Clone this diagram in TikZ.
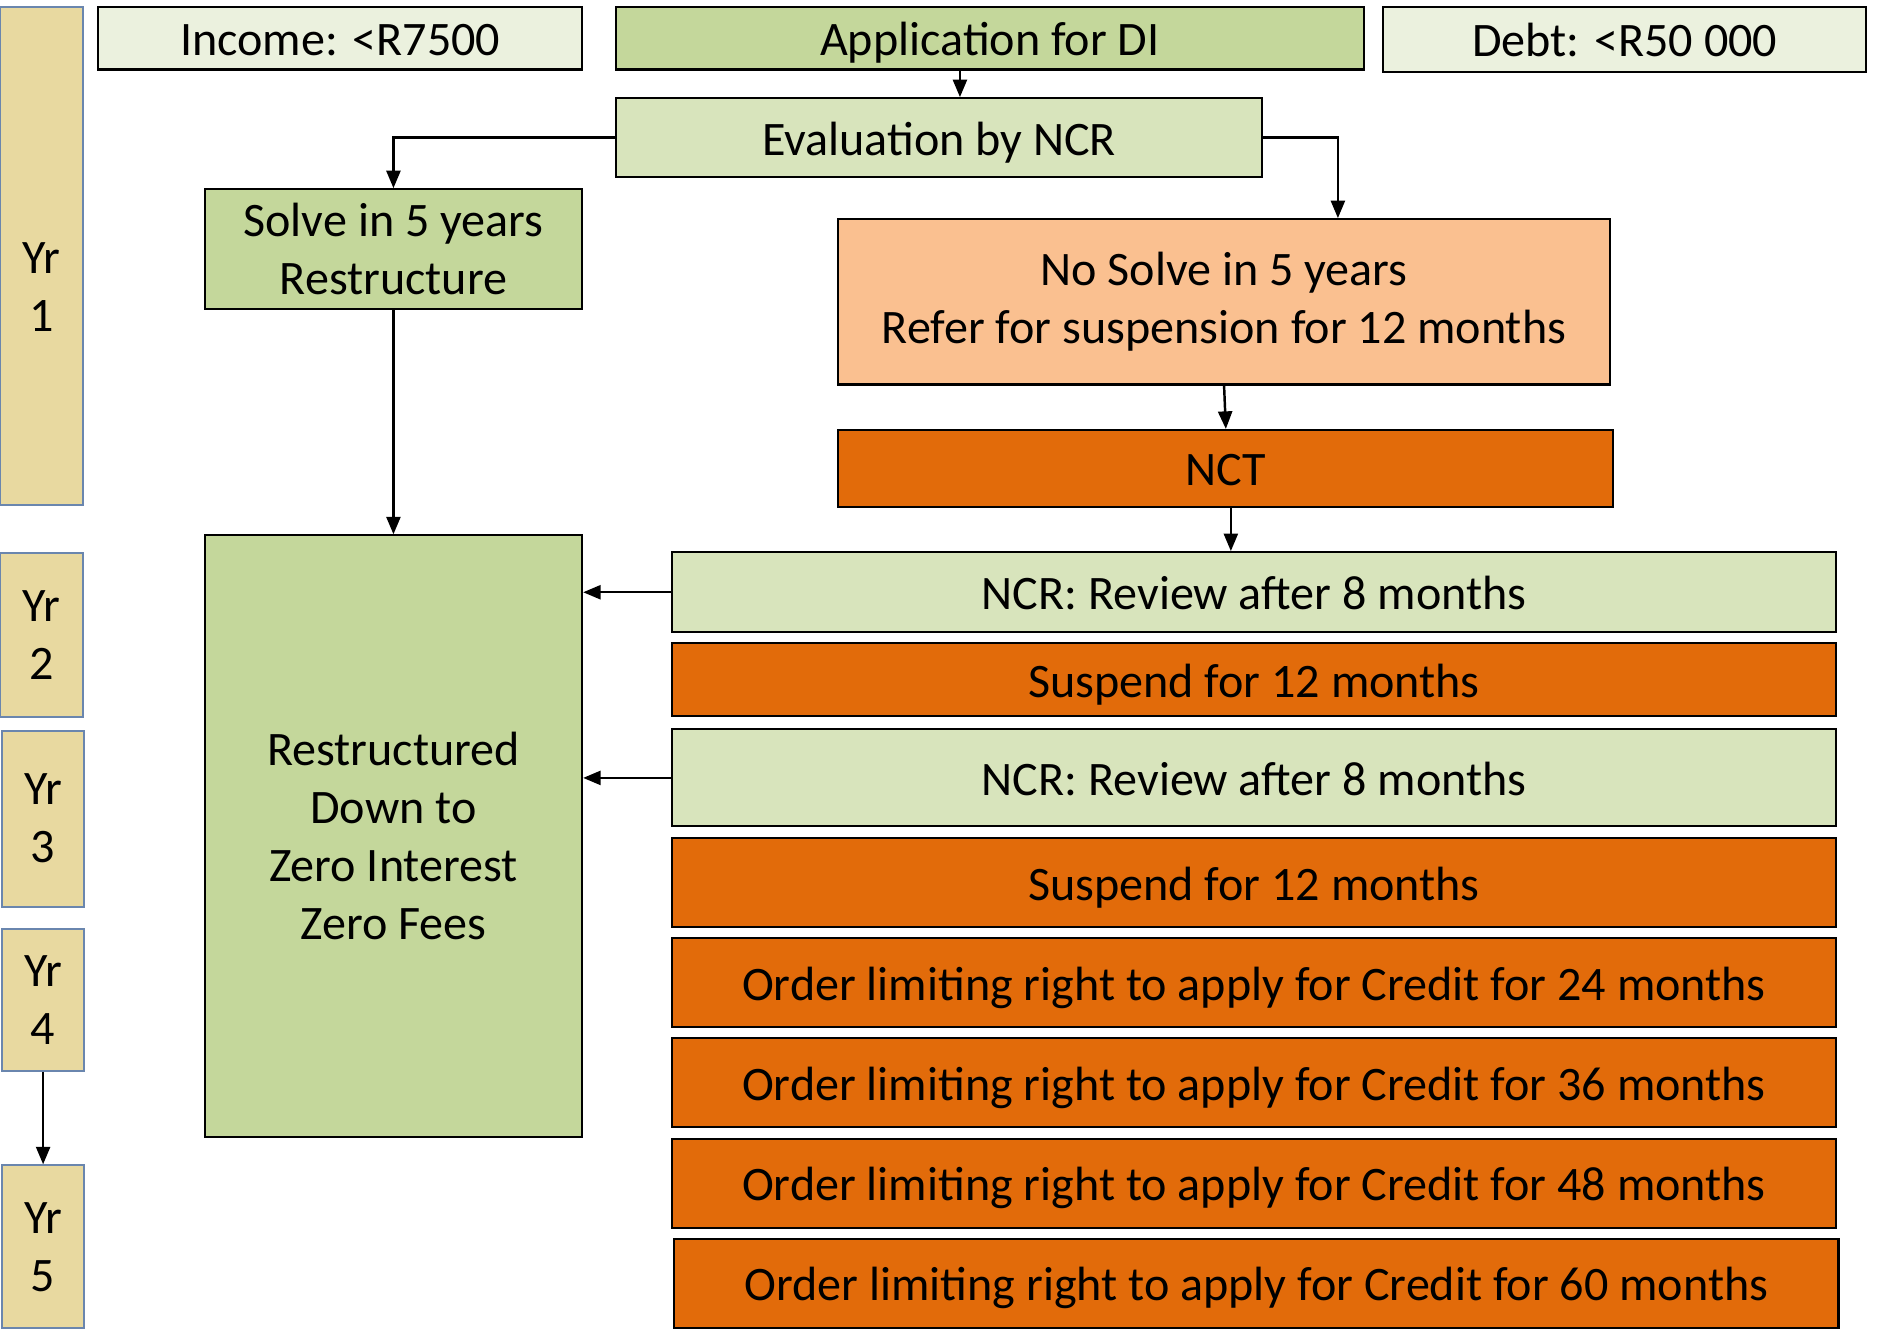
\documentclass[tikz,border=0pt]{standalone}
\usepackage{fontspec}
\setmainfont{Carlito}
\usepackage{tikz}
\usetikzlibrary{arrows.meta, calc, positioning}
\definecolor{yrfill}{HTML}{E8D9A0}
\definecolor{yrline}{HTML}{6A86AE}
\definecolor{pale}{HTML}{EBF1DE}
\definecolor{midgreen}{HTML}{C4D79B}
\definecolor{ltgreen}{HTML}{D8E4BC}
\definecolor{peach}{HTML}{FAC090}
\definecolor{orng}{HTML}{E26B0A}
\tikzset{
  box/.style={draw, line width=0.6pt, inner sep=0pt, align=center, font=\fontsize{13.7}{16.5}\selectfont},
  one/.style={text height=12.5pt, text depth=2.6pt},
  wh/.style 2 args={minimum width={#1*0.012cm}, minimum height={#2*0.012cm}},
  yr/.style={box, draw=yrline, fill=yrfill},
  arr/.style={-{Triangle[length=5pt, width=4pt]}, line width=0.7pt}
}

\begin{document}
\begin{tikzpicture}[x=0.012cm, y=-0.012cm]
\useasboundingbox (0,0) rectangle (1568,1112);
\node[yr, wh={69}{416}] (yr1) at (34.5,214) {};
\node[align=center, font=\fontsize{13.7}{16.5}\selectfont] (yr1t) at (34.5,240) {Yr\\1};
\foreach \n/\x/\y/\w/\h in {2/34.5/530.5/69/137, 3/36/683.5/68/147, 4/36/835/68/118, 5/36/1041/68/136}
  \node[yr, wh={\w}{\h}] (yr\n) at (\x,\y) {Yr\\\n};
\node[box, one, fill=pale, wh={404}{52}] (inc) at (284,32) {Income: <R7500};
\node[box, one, fill=midgreen, wh={625}{52}] (app) at (826.5,32) {Application for DI};
\node[box, one, fill=pale, wh={403}{54}] (debt) at (1356.5,33) {Debt: <R50 000};
\node[box, one, fill=ltgreen, wh={540}{66}] (eval) at (784,115) {Evaluation by NCR};
\node[box, fill=midgreen, wh={315}{100}] (solve) at (328.5,208) {Solve in 5 years\\Restructure};
\node[box, fill=peach, wh={644}{138}] (nosolve) at (1022,252) {No Solve in 5 years\\Refer for suspension for 12 months};
\node[box, one, fill=orng, wh={647}{64}] (nct) at (1023.5,391) {NCT};
\node[box, fill=midgreen, wh={315}{502}] (rest) at (328.5,698) {Restructured\\Down to\\Zero Interest\\Zero Fees};
\node[box, one, fill=ltgreen, wh={972}{67}] (rev1) at (1047,494.5) {NCR: Review after 8 months};
\node[box, one, fill=orng, wh={972}{61}] (sus1) at (1047,567.5) {Suspend for 12 months};
\node[box, one, fill=ltgreen, wh={972}{81}] (rev2) at (1047,649.5) {NCR: Review after 8 months};
\node[box, one, fill=orng, wh={972}{74}] (sus2) at (1047,737) {Suspend for 12 months};
\foreach \m/\x/\y in {24/1047/820.5, 36/1047/904, 48/1047/988, 60/1049/1071.5}
  \node[box, one, fill=orng, wh={972}{74}] (ord\m) at (\x,\y) {Order limiting right to apply for Credit for \m{} months};
\draw[arr] ([xshift=-0.3cm]app.south) -- ([xshift=-0.3cm]app.south |- eval.north);
\draw[arr] (eval.west) -| (solve.north);
\draw[arr] (eval.east) -| ([xshift=1.14cm]nosolve.north);
\draw[arr] (nosolve.south) -- (nct.north);
\draw[arr] ([xshift=0.05cm]nct.south) -- ([xshift=0.05cm]nct.south |- rev1.north);
\draw[arr] (solve.south) -- (rest.north);
\draw[arr] (rev1.west) -- (rest.east |- rev1.west);
\draw[arr] (rev2.west) -- (rest.east |- rev2.west);
\draw[arr] (yr4.south) -- (yr5.north);
\end{tikzpicture}
\end{document}
